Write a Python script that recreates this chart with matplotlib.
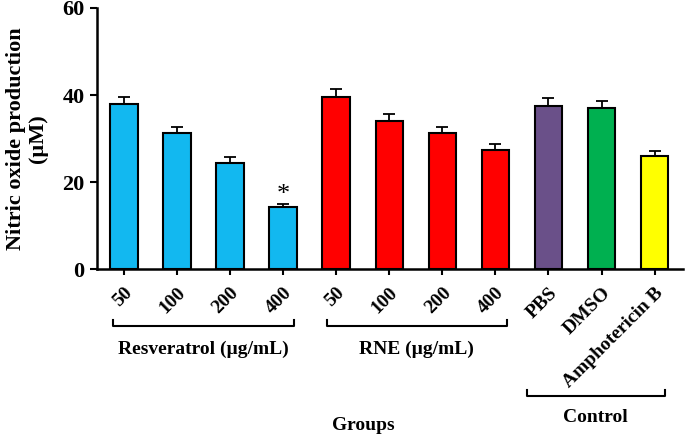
import matplotlib
matplotlib.use('Agg')
import matplotlib.pyplot as plt
import matplotlib.transforms as mtransforms

plt.rcParams['font.family'] = 'Liberation Serif'
plt.rcParams['font.weight'] = 'bold'
plt.rcParams['axes.labelweight'] = 'bold'

labels = ['50', '100', '200', '400', '50', '100', '200', '400', 'PBS', 'DMSO', 'Amphotericin B']
values = [37.9, 31.3, 24.4, 14.3, 39.5, 34.0, 31.3, 27.4, 37.5, 37.0, 26.0]
errors = [1.6, 1.3, 1.3, 0.6, 1.9, 1.6, 1.3, 1.3, 1.8, 1.6, 1.1]
colors = ['#12B8F0'] * 4 + ['#FF0000'] * 4 + ['#6A5089', '#00B050', '#FFFF00']

groups = ['Resveratrol (µg/mL)', 'RNE (µg/mL)', 'Control']
group_spans = [(-0.21, 3.2), (3.82, 7.21), (7.59, 10.19)]

fig = plt.figure(figsize=(6.85, 4.37), dpi=100)
ax = fig.add_axes([0.1416, 0.3844, 0.855, 0.5973])

x = list(range(len(values)))
ax.bar(x, values, width=0.52, color=colors, edgecolor='black', linewidth=1.5,
       yerr=[[0] * len(errors), errors], capsize=4.5,
       error_kw=dict(elinewidth=1.3, capthick=1.3, ecolor='black'), zorder=2)

ax.text(3, 17.0, '*', ha='center', va='center', fontsize=19, fontweight='normal')

ax.set_xlim(-0.51, 10.53)
ax.set_ylim(0, 60)
ax.set_yticks([0, 20, 40, 60])
ax.set_xticks(x)
ax.set_xticklabels(labels, rotation=45, ha='right', rotation_mode='anchor', fontsize=14)
ax.tick_params(axis='x', pad=7, length=4, width=1.5)
ax.tick_params(axis='y', labelsize=16, length=5, width=1.5, pad=4)
for s in ['top', 'right']:
    ax.spines[s].set_visible(False)
for s in ['left', 'bottom']:
    ax.spines[s].set_linewidth(1.8)

ax.set_ylabel('Nitric oxide production\n(µM)', fontsize=16, labelpad=10, linespacing=1.15)

# group brackets below the tick labels
trans = mtransforms.blended_transform_factory(ax.transData, fig.transFigure)
bracket_y = [1 - 326 / 437, 1 - 326 / 437, 1 - 396 / 437]
label_y = [1 - 349 / 437, 1 - 349 / 437, 1 - 418 / 437]
for name, (a, b), by, ly in zip(groups, group_spans, bracket_y, label_y):
    h = 6 / 437
    ax.plot([a, a, b, b], [by + h, by, by, by + h], color='black', lw=1.5,
            transform=trans, clip_on=False)
    ax.text((a + b) / 2, ly, name, ha='center', va='center', fontsize=14,
            transform=trans)

fig.text(363 / 685, 1 - 425 / 437, 'Groups', ha='center', va='center', fontsize=14)

fig.savefig('out.png', dpi=100)
